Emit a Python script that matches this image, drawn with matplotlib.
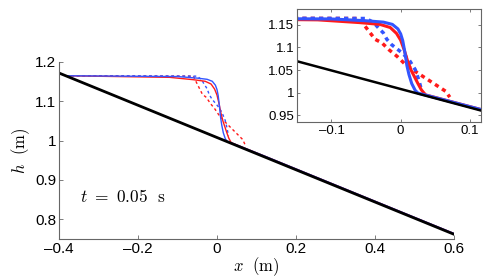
import matplotlib
matplotlib.use("Agg")
import matplotlib.pyplot as plt
from matplotlib.ticker import FuncFormatter

plt.rcParams["font.family"] = ["Liberation Sans", "DejaVu Sans"]
plt.rcParams["mathtext.fontset"] = "cm"

# bed (sloping bottom)
bed_x = [-0.4, 0.6]
bed_h = [1.172, 0.762]

# surface profiles
blue_solid_x = [-0.383, -0.10, -0.05, -0.025, -0.012, -0.004, 0.0, 0.003, 0.006, 0.009, 0.012, 0.016, 0.021, 0.025, 0.12, 0.6]
blue_solid_h = [1.165, 1.163, 1.159, 1.156, 1.151, 1.141, 1.13, 1.115, 1.09, 1.06, 1.04, 1.02, 1.005, 0.999, 0.961, 0.764]

red_solid_x = [-0.383, -0.12, -0.06, -0.03, -0.015, -0.006, 0.0, 0.005, 0.01, 0.015, 0.02, 0.025, 0.03, 0.036, 0.12, 0.6]
red_solid_h = [1.165, 1.161, 1.155, 1.151, 1.144, 1.131, 1.116, 1.095, 1.07, 1.05, 1.035, 1.02, 1.006, 0.995, 0.961, 0.764]

blue_dot_x = [-0.383, -0.05, -0.039, -0.032, -0.025, -0.020, -0.013, 0.002, 0.012, 0.021, 0.026, 0.029]
blue_dot_h = [1.165, 1.164, 1.155, 1.143, 1.132, 1.118, 1.106, 1.088, 1.073, 1.051, 1.029, 1.012]

red_dot_x = [-0.383, -0.06, -0.051, -0.044, -0.037, -0.027, -0.017, -0.005, 0.007, 0.021, 0.036, 0.050, 0.065, 0.071]
red_dot_h = [1.165, 1.164, 1.146, 1.132, 1.118, 1.110, 1.095, 1.080, 1.062, 1.047, 1.032, 1.018, 1.003, 0.990]

main_xticks = [-0.4, -0.2, 0, 0.2, 0.4, 0.6]
main_yticks = [0.8, 0.9, 1, 1.1, 1.2]
inset_xticks = [-0.1, 0, 0.1]
inset_yticks = [0.95, 1, 1.05, 1.1, 1.15]

BLUE = "#3355ff"
RED = "#ff1a1a"
SPINE = "#666666"


def fmt(v, pos):
    # long dash as minus sign, like the original
    return ("%g" % v).replace("-", "\u2013")


fig = plt.figure(figsize=(4.94, 2.79), dpi=100)

# main axes
ax = fig.add_axes([0.1194, 0.1434, 0.7996, 0.6344])
ax.plot(red_dot_x, red_dot_h, color=RED, lw=1.0, ls=(0, (2, 2)))
ax.plot(blue_dot_x, blue_dot_h, color=BLUE, lw=1.0, ls=(0, (2, 2)))
ax.plot(red_solid_x, red_solid_h, color=RED, lw=1.0)
ax.plot(blue_solid_x, blue_solid_h, color=BLUE, lw=1.0)
ax.plot(bed_x, bed_h, color="black", lw=2.0)
ax.set_xlim(-0.4, 0.6)
ax.set_ylim(0.75, 1.2)
ax.set_xticks(main_xticks)
ax.set_yticks(main_yticks)
ax.xaxis.set_major_formatter(FuncFormatter(fmt))
ax.yaxis.set_major_formatter(FuncFormatter(fmt))
ax.tick_params(direction="in", length=3, width=0.6, color=SPINE, labelsize=11, pad=2)
for s in ["top", "right"]:
    ax.spines[s].set_visible(False)
for s in ["left", "bottom"]:
    ax.spines[s].set_color(SPINE)
    ax.spines[s].set_linewidth(0.8)
ax.set_xlabel(r"$x\ \ \mathrm{(m)}$", fontsize=12, labelpad=0)
ax.set_ylabel(r"$h\ \ \mathrm{(m)}$", fontsize=12, labelpad=2)
ax.text(-0.347, 0.858, r"$t\ =\ 0.05\ \ \mathrm{s}$", fontsize=12.5, va="center", ha="left")

# inset
axi = fig.add_axes([0.601, 0.5627, 0.3725, 0.405])
axi.plot(red_dot_x, red_dot_h, color=RED, lw=2.5, ls=(0, (1.2, 1.2)))
axi.plot(blue_dot_x, blue_dot_h, color=BLUE, lw=2.5, ls=(0, (1.2, 1.2)))
axi.plot(red_solid_x, red_solid_h, color=RED, lw=2.2)
axi.plot(blue_solid_x, blue_solid_h, color=BLUE, lw=2.2)
axi.plot(bed_x, bed_h, color="black", lw=1.8)
axi.set_xlim(-0.15, 0.116)
axi.set_ylim(0.935, 1.185)
axi.set_xticks(inset_xticks)
axi.set_yticks(inset_yticks)
axi.xaxis.set_major_formatter(FuncFormatter(fmt))
axi.yaxis.set_major_formatter(FuncFormatter(fmt))
axi.tick_params(direction="in", length=2, width=0.6, color=SPINE, labelsize=9.5, pad=2,
                top=True, right=True)
for s in axi.spines.values():
    s.set_color(SPINE)
    s.set_linewidth(0.8)

fig.savefig("out.png", dpi=100)
